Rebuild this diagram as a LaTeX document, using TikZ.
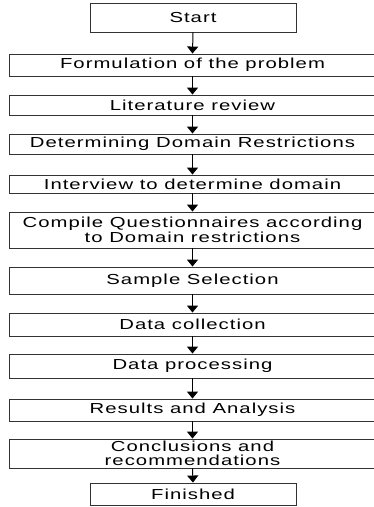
\documentclass[tikz,border=0pt]{standalone}
\usepackage{fontspec}
\setmainfont{Liberation Sans}[FakeStretch=1.4,LetterSpace=7]
\usetikzlibrary{arrows.meta}
\begin{document}
\begin{tikzpicture}[x=1pt,y=-1pt,
  box/.style={draw=black!80,line width=0.9pt,rectangle,inner sep=0pt,
    align=center,font=\fontsize{14.5}{13.5}\selectfont},
  wide/.style={box,minimum width=367pt},
  narrow/.style={box,minimum width=206pt},
  arr/.style={draw=black,line width=1pt,-{Triangle[width=11pt,length=7pt]}}]
\clip (0,0) rectangle (374,507);
\fill[white] (0,0) rectangle (374,507);
% process steps, centred on x = 192.5
\node[narrow,minimum height=29pt] (start) at (193,17.5) {Start};
\node[wide,minimum height=22pt] (form) at (192.5,65) {Formulation of the problem};
\node[wide,minimum height=20pt] (lit) at (192.5,105) {Literature review};
\node[wide,minimum height=20pt] (dom) at (192.5,144) {Determining Domain Restrictions};
\node[wide,minimum height=18pt] (intv) at (192.5,184) {Interview to determine domain};
\node[wide,minimum height=36pt] (quest) at (192.5,230) {Compile Questionnaires according\\to Domain restrictions};
\node[wide,minimum height=27pt] (samp) at (192.5,280.5) {Sample Selection};
\node[wide,minimum height=23pt] (coll) at (192.5,324.5) {Data collection};
\node[wide,minimum height=24pt] (proc) at (192.5,366) {Data processing};
\node[wide,minimum height=22pt] (res) at (192.5,410) {Results and Analysis};
\node[wide,minimum height=29pt] (conc) at (192.5,453.5) {Conclusions and\\recommendations};
\node[narrow,minimum height=22pt] (fin) at (193,494) {Finished};
% connectors
\draw[arr] (start.south) -- (form.north);
\draw[arr] (form.south) -- (lit.north);
\draw[arr] (lit.south) -- (dom.north);
\draw[arr] (dom.south) -- (intv.north);
\draw[arr] (intv.south) -- (quest.north);
\draw[arr] (quest.south) -- (samp.north);
\draw[arr] (samp.south) -- (coll.north);
\draw[arr] (coll.south) -- (proc.north);
\draw[arr] (proc.south) -- (res.north);
\draw[arr] (res.south) -- (conc.north);
\draw[arr] (conc.south) -- (fin.north);
\end{tikzpicture}
\end{document}
